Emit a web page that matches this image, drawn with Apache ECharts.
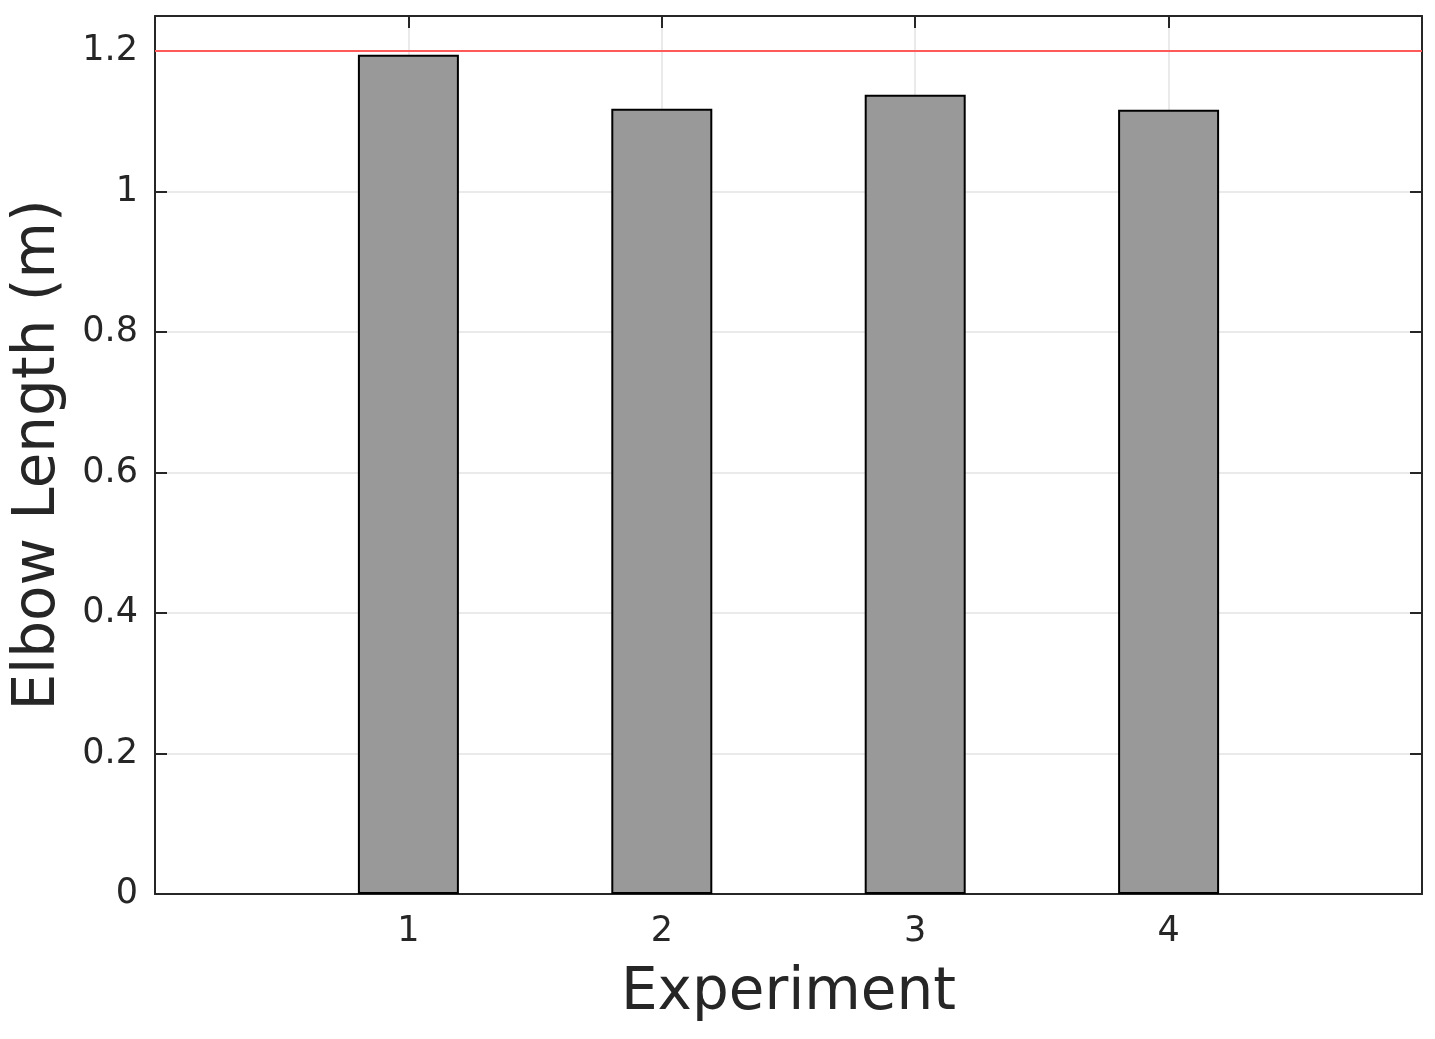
<!DOCTYPE html>
<html>
<head>
<meta charset="utf-8">
<script src="https://cdn.jsdelivr.net/npm/echarts@6/dist/echarts.min.js"></script>
<style>html,body{margin:0;padding:0;background:#fff;}#c{width:1435px;height:1039px;}</style>
</head>
<body>
<div id="c"></div>
<script>
const experiments = [1, 2, 3, 4];
const elbowLength = [1.195, 1.118, 1.138, 1.1165];
const referenceLength = 1.198;
const yTicks = [0, 0.2, 0.4, 0.6, 0.8, 1, 1.2];

const chart = echarts.init(document.getElementById('c'));
const axisColor = '#262626';
const font = 'DejaVu Sans';
const barData = experiments.map((e, i) => [e, elbowLength[i]]);

const boxAxis = {
  axisLine: { show: true, onZero: false, lineStyle: { color: axisColor, width: 2 } },
  axisTick: { show: true, inside: true, length: 12, lineStyle: { color: axisColor, width: 2 } }
};

const option = {
  animation: false,
  backgroundColor: '#fff',
  grid: { left: 155, right: 13, top: 16, bottom: 145, containLabel: false, outerBoundsMode: 'none' },
  xAxis: [Object.assign({
    type: 'value', min: 0, max: 5, interval: 1, position: 'bottom',
    name: 'Experiment', nameLocation: 'middle', nameGap: 71,
    nameTextStyle: { fontFamily: font, fontSize: 58, color: axisColor },
    axisLabel: { fontFamily: font, fontSize: 35, color: axisColor, margin: 20,
      formatter: v => experiments.includes(v) ? String(v) : '' },
    splitLine: { show: true, lineStyle: { color: '#e3e3e3', width: 1.5 } }
  }, boxAxis), Object.assign({
    type: 'value', min: 0, max: 5, interval: 1, position: 'top',
    axisLabel: { show: false }, splitLine: { show: false }
  }, boxAxis)],
  yAxis: [Object.assign({
    type: 'value', min: 0, max: 1.25, interval: 0.2, position: 'left',
    name: 'Elbow Length (m)', nameLocation: 'middle', nameGap: 87,
    nameTextStyle: { fontFamily: font, fontSize: 58, color: axisColor },
    axisLabel: { fontFamily: font, fontSize: 35, color: axisColor, margin: 17,
      formatter: v => { const t = yTicks.find(x => Math.abs(x - v) < 1e-9); return t === undefined ? '' : String(t); } },
    splitLine: { show: true, lineStyle: { color: '#e3e3e3', width: 1.5 } }
  }, boxAxis), Object.assign({
    type: 'value', min: 0, max: 1.25, interval: 0.2, position: 'right',
    axisLabel: { show: false }, splitLine: { show: false }
  }, boxAxis)],
  series: [{
    type: 'bar', xAxisIndex: 0, yAxisIndex: 0,
    data: barData, barWidth: 101,
    itemStyle: { color: '#999999', borderColor: '#000', borderWidth: 2 },
    markLine: {
      silent: true, symbol: 'none', label: { show: false },
      lineStyle: { color: '#ff5a5a', width: 2, type: 'solid' },
      data: [{ yAxis: referenceLength }]
    }
  }]
};
chart.setOption(option);
</script>
</body>
</html>
